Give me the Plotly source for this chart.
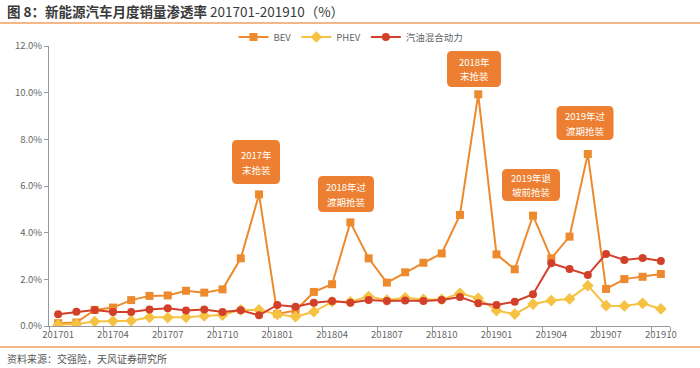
import plotly.graph_objects as go

months = [f"{y}{m:02d}" for y in (2017, 2018, 2019) for m in range(1, 13)][:34]

bev = [0.12, 0.15, 0.69, 0.79, 1.11, 1.29, 1.31, 1.51, 1.43, 1.57, 2.90, 5.64,
       0.52, 0.66, 1.46, 1.79, 4.44, 2.90, 1.86, 2.30, 2.71, 3.11, 4.76, 9.93,
       3.07, 2.43, 4.73, 2.90, 3.83, 7.37, 1.59, 2.01, 2.11, 2.23]
phev = [0.05, 0.09, 0.19, 0.21, 0.23, 0.37, 0.36, 0.37, 0.43, 0.47, 0.69, 0.69,
        0.50, 0.40, 0.61, 1.04, 1.04, 1.26, 1.11, 1.21, 1.14, 1.14, 1.40, 1.19,
        0.66, 0.51, 0.94, 1.09, 1.16, 1.73, 0.87, 0.86, 0.97, 0.73]
hybrid = [0.50, 0.61, 0.69, 0.60, 0.60, 0.71, 0.76, 0.66, 0.71, 0.60, 0.67, 0.46,
          0.90, 0.83, 1.00, 1.07, 1.00, 1.11, 1.07, 1.09, 1.07, 1.11, 1.24, 0.97,
          0.90, 1.04, 1.36, 2.69, 2.44, 2.19, 3.09, 2.83, 2.91, 2.79]

series_names = ["BEV", "PHEV", "汽油混合动力"]
tick_labels = months[::3]

notes = [("2017年", "末抢装"), ("2018年过", "渡期抢装"), ("2018年", "末抢装"),
         ("2019年退", "坡前抢装"), ("2019年过", "渡期抢装")]

C_BEV = "#EE8A2E"
C_PHEV = "#F5C242"
C_HYB = "#D2402A"
C_BOX = "#EC7F31"

fig = go.Figure()
fig.add_trace(go.Scatter(x=months, y=bev, name=series_names[0], mode="lines+markers",
                         line=dict(color=C_BEV, width=2),
                         marker=dict(symbol="square", size=8, color=C_BEV)))
fig.add_trace(go.Scatter(x=months, y=phev, name=series_names[1], mode="lines+markers",
                         line=dict(color=C_PHEV, width=2),
                         marker=dict(symbol="diamond", size=9, color=C_PHEV)))
fig.add_trace(go.Scatter(x=months, y=hybrid, name=series_names[2], mode="lines+markers",
                         line=dict(color=C_HYB, width=2),
                         marker=dict(symbol="circle", size=8, color=C_HYB)))

L, R, T, B = 49, 30, 46, 42
W, H = 700, 368
pw, ph = W - L - R, H - T - B

def px(xp):
    return (xp - L) / pw

def py(yp):
    return (H - B - yp) / ph

# callout boxes: (center x px, center y px, width, height)
boxes = [(256, 162, 48, 44), (346, 194, 56, 36), (474, 69, 54, 36),
         (531, 185, 58, 32), (585, 123, 57, 34)]
for (l1, l2), (cx, cy, bw, bh) in zip(notes, boxes):
    x0, x1 = px(cx - bw / 2), px(cx + bw / 2)
    y0, y1 = py(cy + bh / 2), py(cy - bh / 2)
    r = 5
    rx, ry = r / pw, r / ph
    path = (f"M {x0+rx},{y0} L {x1-rx},{y0} Q {x1},{y0} {x1},{y0+ry} "
            f"L {x1},{y1-ry} Q {x1},{y1} {x1-rx},{y1} L {x0+rx},{y1} "
            f"Q {x0},{y1} {x0},{y1-ry} L {x0},{y0+ry} Q {x0},{y0} {x0+rx},{y0} Z")
    fig.add_shape(type="path", path=path, xref="paper", yref="paper",
                  fillcolor=C_BOX, line=dict(width=0), layer="above")
    for dy, t in ((-7.5, l1), (7.5, l2)):
        fig.add_annotation(x=px(cx), y=py(cy + dy), xref="paper", yref="paper", text=t,
                           xanchor="center", yanchor="middle",
                           showarrow=False, align="center",
                           font=dict(size=9.5, color="white", family="Noto Sans CJK SC"))

# title & source
fig.add_annotation(x=px(5), y=py(11), xref="paper", yref="paper", xanchor="left",
                   yanchor="middle", showarrow=False,
                   text="<b>图 8：新能源汽车月度销量渗透率</b> 201701-201910（%）",
                   font=dict(size=13.5, color="#3a3a3a", family="Noto Sans CJK SC"))
fig.add_annotation(x=px(5), y=py(358), xref="paper", yref="paper", xanchor="left",
                   yanchor="middle", showarrow=False,
                   text="资料来源：交强险，天风证券研究所",
                   font=dict(size=10, color="#555555", family="Noto Sans CJK SC"))
fig.add_shape(type="line", xref="paper", yref="paper", x0=px(0), x1=px(700),
              y0=py(23), y1=py(23), line=dict(color="#F0A060", width=1.5))
fig.add_shape(type="line", xref="paper", yref="paper", x0=px(0), x1=px(700),
              y0=py(347), y1=py(347), line=dict(color="#F0A060", width=1.5))

fig.update_layout(
    width=W, height=H,
    margin=dict(l=L, r=R, t=T, b=B, autoexpand=False),
    paper_bgcolor="white", plot_bgcolor="white",
    font=dict(family="Noto Sans CJK SC, Liberation Sans, sans-serif", size=10, color="#666666"),
    showlegend=True,
    legend=dict(orientation="h", x=px(351), xanchor="center", y=py(37), yanchor="middle",
                font=dict(size=9.5, color="#666666"), itemwidth=30, tracegroupgap=0,
                bgcolor="rgba(0,0,0,0)", traceorder="normal"),
    xaxis=dict(type="category", tickmode="array", tickvals=tick_labels, ticktext=tick_labels,
               tickson="boundaries", ticks="outside", ticklen=5, tickcolor="#999999",
               tickangle=0,
               showline=True, linecolor="#999999", linewidth=1, showgrid=False,
               tickfont=dict(size=9.5, color="#666666"), range=[-0.5, 33.5]),
    yaxis=dict(range=[0, 12], dtick=2, tickformat=".1f", ticksuffix="%",
               ticks="outside", ticklen=4, tickcolor="#999999",
               showline=True, linecolor="#999999", linewidth=1, showgrid=False,
               zeroline=False, tickfont=dict(size=9.5, color="#666666")),
)

fig.write_html("out.html", config={"displayModeBar": False},
               post_script="document.body.style.margin='0';document.body.style.overflow='hidden';")
